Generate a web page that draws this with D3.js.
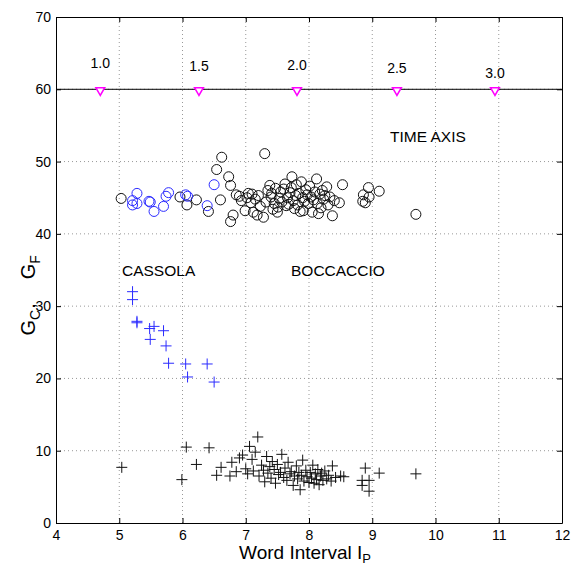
<!DOCTYPE html>
<html>
<head>
<meta charset="utf-8">
<script src="https://cdn.jsdelivr.net/npm/d3@7"></script>
<style>
body { margin: 0; background: #fff; }
text { font-family: Arial, "Liberation Sans", sans-serif; }
</style>
</head>
<body>
<script>
// time axis markers
var timeValues = ["1.0", "1.5", "2.0", "2.5", "3.0"];
var timeX = [4.70, 6.26, 7.81, 9.39, 10.94];
var timeLabelY = [63.6, 63.2, 63.3, 63.0, 62.3];
var timeLineY = 60;

// Cassola (blue)
var cassolaX  = [5.21, 5.21, 5.28, 5.28, 5.47, 5.49, 5.55, 5.70, 5.74, 5.78, 6.05, 6.08, 6.39, 6.50];
var cassolaGC = [44.6, 44.0, 45.6, 44.2, 44.5, 44.4, 43.1, 43.8, 45.2, 45.7, 45.4, 45.2, 43.9, 46.8];
var cassolaGFx = [5.21, 5.21, 5.28, 5.28, 5.48, 5.49, 5.55, 5.70, 5.74, 5.78, 6.05, 6.08, 6.39, 6.50];
var cassolaGF = [32.0, 30.9, 27.9, 27.7, 26.9, 25.4, 27.2, 26.6, 24.5, 22.1, 22.0, 20.2, 22.0, 19.5];

// Boccaccio (black) circles
var boccGCx = [5.03, 5.96, 6.07, 6.22, 6.41, 6.54, 6.60, 6.62, 6.73, 6.76, 6.80, 6.76, 6.85, 6.90, 6.93,
  6.99, 7.02, 7.04, 7.08, 7.10, 7.12, 7.15, 7.18, 7.20, 7.23, 7.28, 7.30, 7.32, 7.35, 7.38,
  7.40, 7.41, 7.43, 7.45, 7.47, 7.50, 7.51, 7.53, 7.55, 7.57, 7.60, 7.62, 7.64, 7.66, 7.68,
  7.70, 7.72, 7.73, 7.75, 7.77, 7.79, 7.80, 7.82, 7.84, 7.86, 7.88, 7.90, 7.91, 7.93, 7.95,
  7.97, 7.99, 8.01, 8.03, 8.05, 8.07, 8.09, 8.12, 8.13, 8.15, 8.17, 8.19, 8.21, 8.23, 8.25,
  8.28, 8.30, 8.33, 8.37, 8.40, 8.48, 8.53, 8.85, 8.86, 8.89, 8.94, 8.95, 9.11, 9.69];
var boccGC = [44.9, 45.1, 44.0, 44.7, 43.1, 48.9, 44.7, 50.6, 47.9, 46.7, 42.6, 41.7, 45.4, 45.2, 44.6,
  43.2, 45.0, 45.6, 44.3, 45.5, 43.0, 44.8, 42.6, 45.3, 43.8, 42.3, 51.1, 44.4, 46.0, 46.7,
  45.1, 45.6, 43.4, 44.2, 46.3, 43.0, 43.7, 44.9, 45.8, 44.4, 46.2, 46.9, 43.9, 45.0, 44.1,
  45.7, 46.4, 47.9, 44.6, 43.5, 45.3, 46.8, 44.0, 45.6, 43.1, 47.2, 45.0, 43.2, 44.5, 46.1,
  45.4, 44.2, 46.6, 45.1, 43.0, 44.7, 45.8, 47.6, 44.2, 42.8, 45.5, 43.6, 46.0, 44.8, 45.3,
  46.5, 44.0, 45.1, 42.5, 44.6, 44.3, 46.8, 44.5, 45.4, 44.3, 46.4, 45.1, 45.9, 42.7];

// Boccaccio (black) pluses
var boccGFx = [5.04, 5.99, 6.06, 6.22, 6.42, 6.54, 6.61, 6.75, 6.78, 6.85, 6.90, 6.95, 7.00, 7.03, 7.06,
  7.10, 7.12, 7.15, 7.19, 7.21, 7.25, 7.28, 7.30, 7.33, 7.35, 7.38, 7.40, 7.42, 7.45, 7.47,
  7.50, 7.52, 7.55, 7.57, 7.60, 7.62, 7.65, 7.67, 7.70, 7.72, 7.75, 7.77, 7.80, 7.82, 7.84,
  7.86, 7.88, 7.90, 7.92, 7.95, 7.97, 8.00, 8.02, 8.04, 8.06, 8.08, 8.10, 8.12, 8.14, 8.16,
  8.18, 8.20, 8.22, 8.25, 8.28, 8.31, 8.35, 8.37, 8.42, 8.50, 8.55, 8.84, 8.84, 8.89, 8.95,
  8.95, 9.11, 9.69];
var boccGF = [7.7, 6.0, 10.5, 8.1, 10.4, 6.6, 7.7, 6.5, 8.4, 7.1, 9.0, 9.4, 7.5, 6.8, 10.6,
  8.8, 7.2, 9.8, 11.9, 6.5, 8.0, 7.3, 5.7, 9.2, 6.9, 7.8, 6.2, 8.5, 7.4, 5.5,
  8.1, 6.7, 7.0, 9.5, 6.3, 7.6, 5.9, 8.4, 6.8, 7.1, 5.2, 6.5, 7.9, 6.1, 7.0,
  4.6, 6.6, 8.7, 5.8, 7.3, 6.4, 5.6, 7.0, 6.2, 8.0, 5.5, 6.8, 6.0, 7.4, 5.3,
  6.5, 6.9, 5.9, 7.2, 6.1, 6.6, 5.8, 7.9, 6.3, 6.5, 6.4, 5.9, 5.2, 7.6, 5.9,
  4.4, 6.9, 6.8];

var xTicks = [4, 5, 6, 7, 8, 9, 10, 11, 12];
var yTicks = [0, 10, 20, 30, 40, 50, 60, 70];

var W = 571, H = 569;
var m = {left: 56, right: 9, top: 17, bottom: 46};

var svg = d3.select("body").append("svg")
    .attr("width", W)
    .attr("height", H);

var x = d3.scaleLinear().domain([4, 12]).range([m.left, W - m.right]);
var y = d3.scaleLinear().domain([0, 70]).range([H - m.bottom, m.top]);

// grid
svg.append("g").selectAll("line").data(xTicks.slice(1, -1)).enter().append("line")
    .attr("x1", d => x(d)).attr("x2", d => x(d))
    .attr("y1", y(0)).attr("y2", y(70))
    .attr("stroke", "#999").attr("stroke-dasharray", "1,3");
svg.append("g").selectAll("line").data(yTicks.slice(1, -1)).enter().append("line")
    .attr("x1", x(4)).attr("x2", x(12))
    .attr("y1", d => y(d)).attr("y2", d => y(d))
    .attr("stroke", "#999").attr("stroke-dasharray", "1,3");

// axes (matlab style ticks inside)
var xAxis = svg.append("g").attr("transform", "translate(0," + y(0) + ")")
    .call(d3.axisBottom(x).tickValues(xTicks).tickSizeInner(-5).tickSizeOuter(0).tickPadding(7));
var xAxisTop = svg.append("g").attr("transform", "translate(0," + y(70) + ")")
    .call(d3.axisTop(x).tickValues(xTicks).tickSizeInner(-5).tickSizeOuter(0).tickFormat(""));
var yAxis = svg.append("g").attr("transform", "translate(" + x(4) + ",0)")
    .call(d3.axisLeft(y).tickValues(yTicks).tickSizeInner(-5).tickSizeOuter(0).tickPadding(5));
var yAxisRight = svg.append("g").attr("transform", "translate(" + x(12) + ",0)")
    .call(d3.axisRight(y).tickValues(yTicks).tickSizeInner(-5).tickSizeOuter(0).tickFormat(""));

[xAxis, xAxisTop, yAxis, yAxisRight].forEach(function(g){
    g.select(".domain").attr("stroke", "#000");
    g.selectAll(".tick line").attr("stroke", "#000");
    g.selectAll("text").attr("font-size", 14).attr("fill", "#000")
        .attr("font-family", "Arial, 'Liberation Sans', sans-serif");
});

// time axis line
svg.append("line")
    .attr("x1", x(4)).attr("x2", x(12))
    .attr("y1", y(timeLineY)).attr("y2", y(timeLineY))
    .attr("stroke", "#000").attr("stroke-width", 1);

var tri = d3.symbol().type(d3.symbolTriangle).size(34);
svg.append("g").selectAll("path").data(timeX).enter().append("path")
    .attr("d", tri)
    .attr("transform", d => "translate(" + x(d) + "," + (y(timeLineY) + 1) + ") rotate(180)")
    .attr("fill", "#fff").attr("stroke", "#ff00ff").attr("stroke-width", 1.5);

svg.append("g").selectAll("text").data(timeValues).enter().append("text")
    .attr("x", (d, i) => x(timeX[i]))
    .attr("y", (d, i) => y(timeLabelY[i]) + 5)
    .attr("text-anchor", "middle")
    .attr("font-size", 14)
    .text(d => d);

// markers
function circles(xs, ys, color){
    svg.append("g").selectAll("circle").data(xs).enter().append("circle")
        .attr("cx", d => x(d))
        .attr("cy", (d, i) => y(ys[i]))
        .attr("r", 5)
        .attr("fill", "none")
        .attr("stroke", color)
        .attr("stroke-width", 1);
}
function pluses(xs, ys, color){
    var s = 5.5;
    svg.append("g").selectAll("path").data(xs).enter().append("path")
        .attr("d", (d, i) => {
            var cx = x(d), cy = y(ys[i]);
            return "M" + (cx - s) + "," + cy + "H" + (cx + s) + "M" + cx + "," + (cy - s) + "V" + (cy + s);
        })
        .attr("fill", "none")
        .attr("stroke", color)
        .attr("stroke-width", 1);
}

circles(boccGCx, boccGC, "#111");
pluses(boccGFx, boccGF, "#111");
circles(cassolaX, cassolaGC, "#2b2bff");
pluses(cassolaGFx, cassolaGF, "#2b2bff");

// annotations
svg.append("text").attr("x", 390).attr("y", 142).attr("font-size", 15.5).text("TIME AXIS");
svg.append("text").attr("x", 122).attr("y", 276).attr("font-size", 15.5).text("CASSOLA");
svg.append("text").attr("x", 291).attr("y", 276).attr("font-size", 15.5).text("BOCCACCIO");

// axis labels
var xl = svg.append("text")
    .attr("x", 305).attr("y", 559)
    .attr("text-anchor", "middle")
    .attr("font-size", 19);
xl.append("tspan").text("Word Interval I");
xl.append("tspan").attr("font-size", 13).attr("dy", 4).text("P");

var yl = svg.append("text")
    .attr("transform", "translate(35," + y(31.5) + ") rotate(-90)")
    .attr("text-anchor", "middle")
    .attr("font-size", 20);
yl.append("tspan").text("G");
yl.append("tspan").attr("font-size", 14).attr("dy", 5).text("C");
yl.append("tspan").attr("dy", -5).attr("dx", 1).text(",");
yl.append("tspan").attr("dx", 24).text("G");
yl.append("tspan").attr("font-size", 14).attr("dy", 5).text("F");
</script>
</body>
</html>
